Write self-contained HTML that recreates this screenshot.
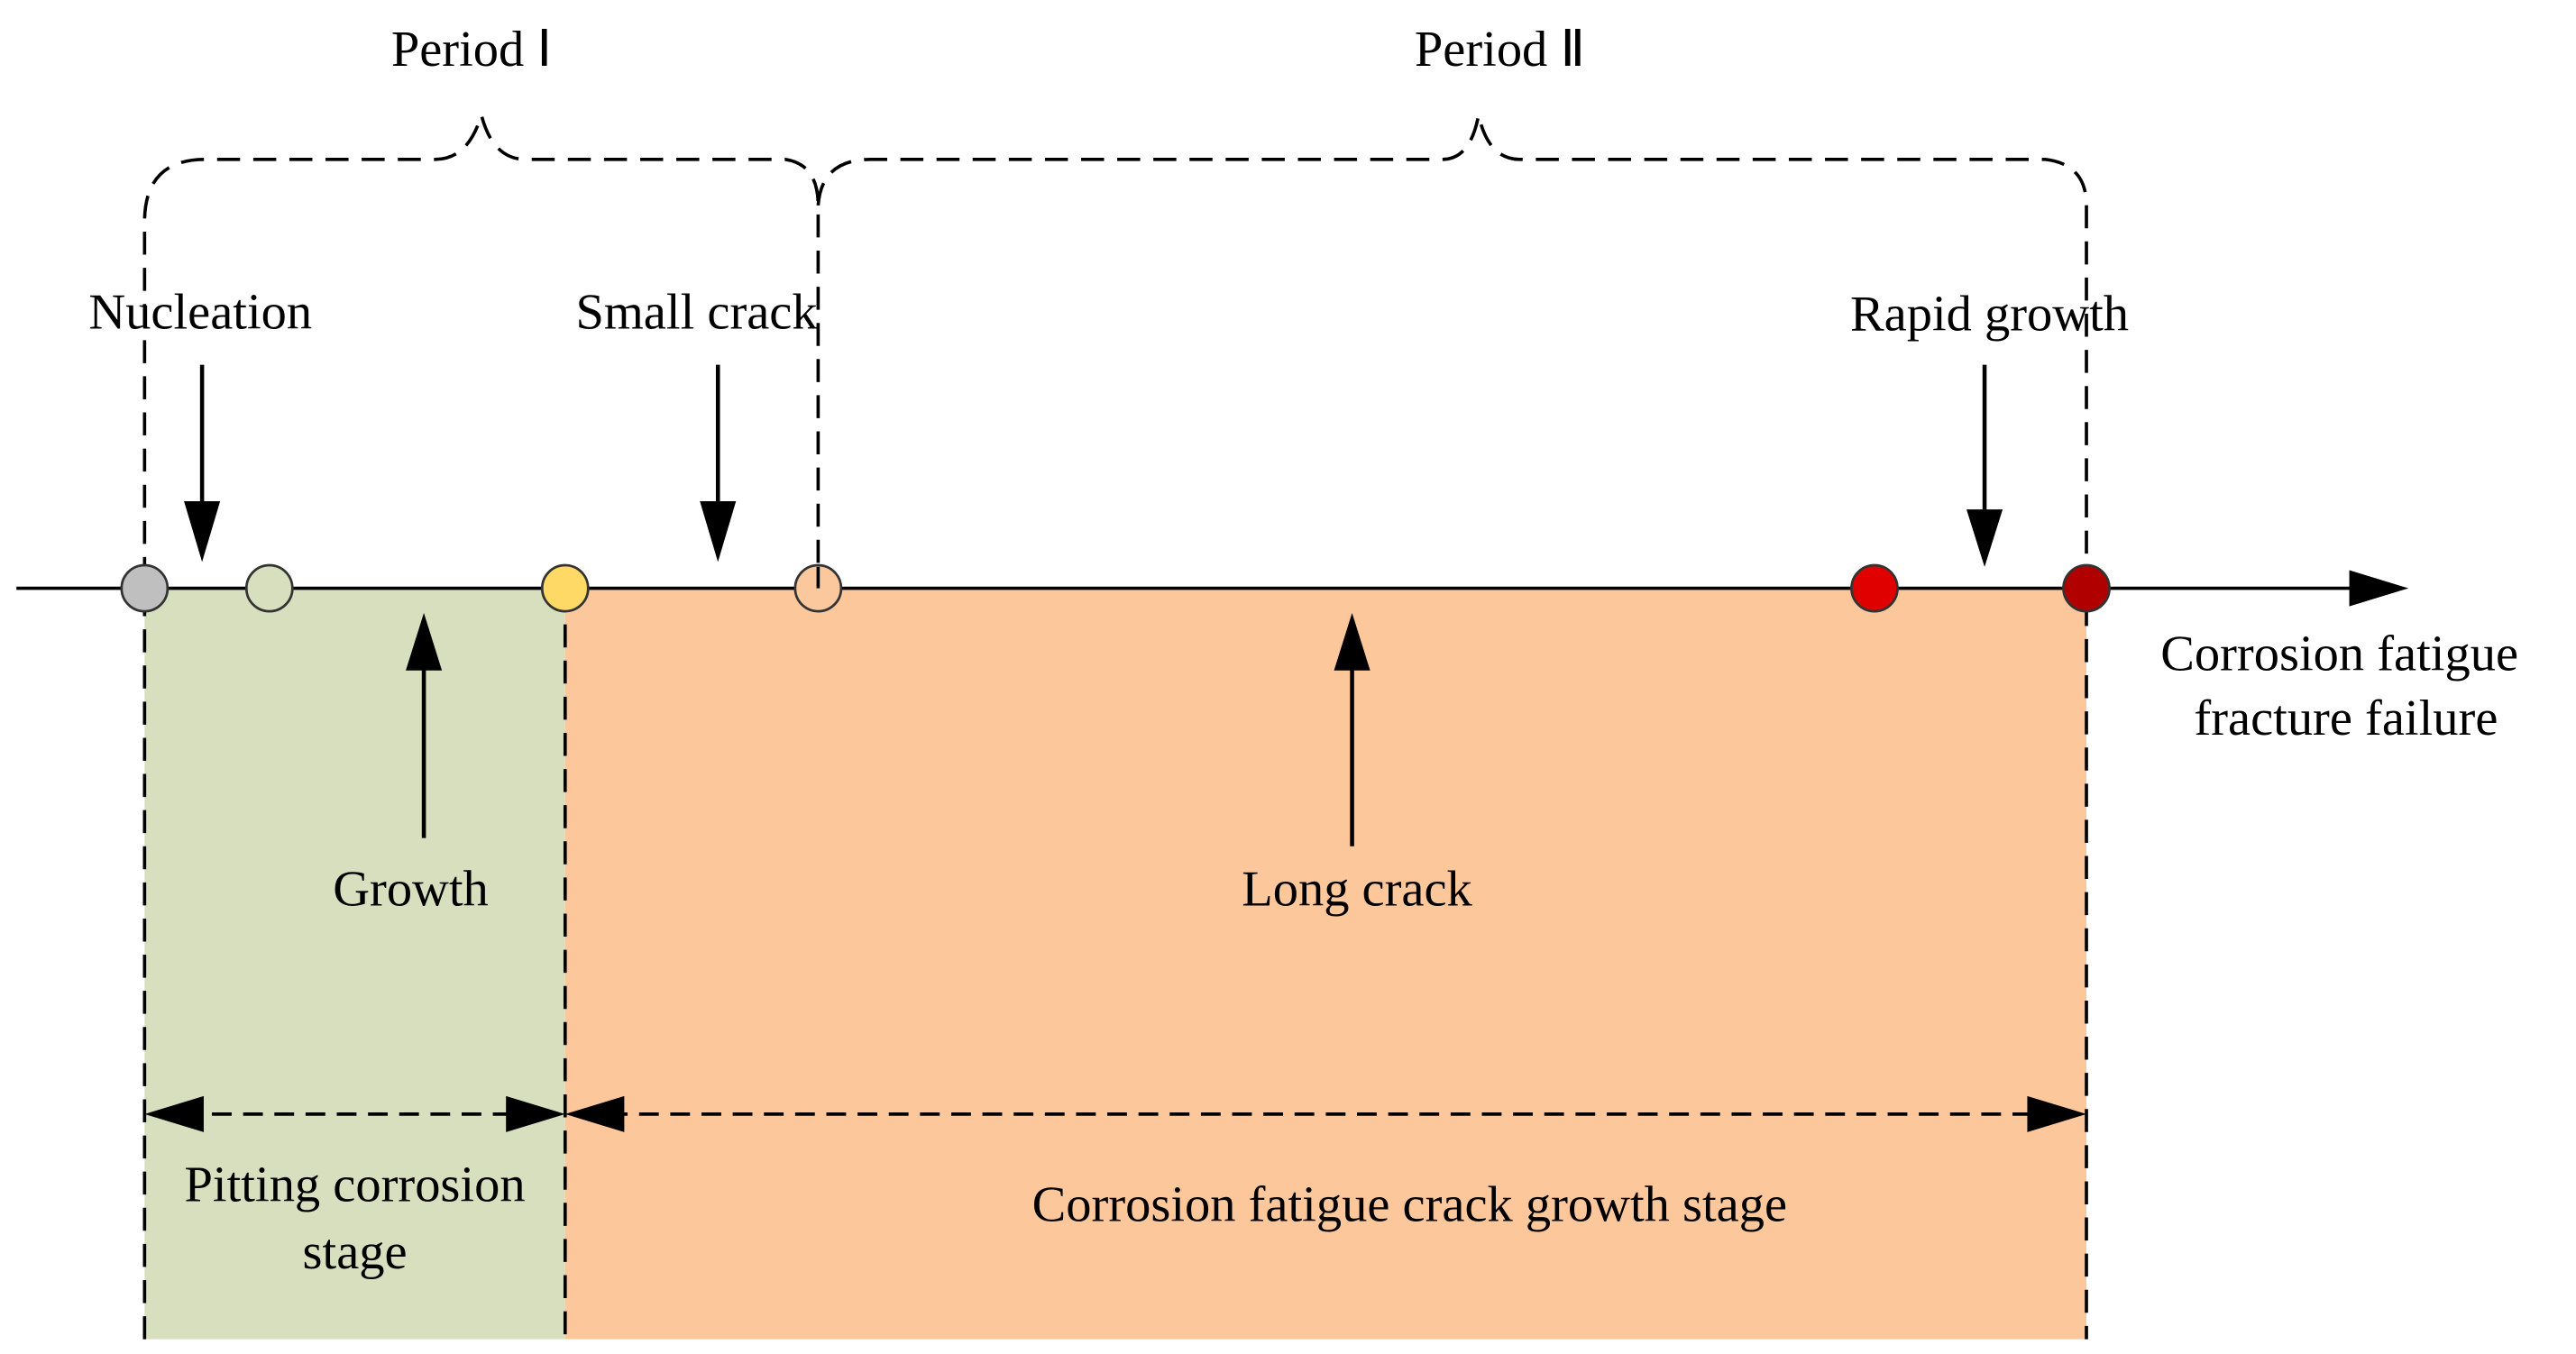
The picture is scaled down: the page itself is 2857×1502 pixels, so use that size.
<!DOCTYPE html>
<html><head><meta charset="utf-8"><style>html,body{margin:0;padding:0;background:#fff}svg{display:block}</style></head>
<body>
<svg width="2857" height="1502" viewBox="0 0 1568 824" preserveAspectRatio="none" xmlns="http://www.w3.org/2000/svg">
<defs><marker id="a" markerWidth="10" markerHeight="10" refX="9" refY="5" orient="auto" markerUnits="userSpaceOnUse"></marker></defs>
<rect x="88" y="358" width="256" height="457" fill="#d7dfbe"/>
<rect x="344" y="358" width="926" height="457" fill="#fdc79c"/>
<g fill="none" stroke="#000" stroke-width="2" stroke-dasharray="14,8">
<path d="M88,815 V135 Q88,97 125,97 H265 Q285,97 293,70 Q300,97 320,97 H478 Q498,100 498,125 V358"/>
<path d="M498,125 Q500,97 530,97 H878 Q895,97 900,70 Q906,97 925,97 H1245 Q1270,100 1270,125 V815"/>
<path d="M344,358 V815"/>
</g>
<line x1="10" y1="358" x2="1435" y2="358" stroke="#000" stroke-width="2"/>
<polygon points="1430,347 1466,358 1430,369" fill="#000"/>
<g stroke="#333" stroke-width="1.5">
<ellipse cx="88" cy="358" rx="14" ry="14" fill="#bfbfbf"/>
<ellipse cx="164" cy="358" rx="14" ry="14" fill="#d7dfbe"/>
<ellipse cx="344" cy="358" rx="14" ry="14" fill="#ffd966"/>
<ellipse cx="498" cy="358" rx="14" ry="14" fill="#fbc89e"/>
<ellipse cx="1141" cy="358" rx="14" ry="14" fill="#e00000"/>
<ellipse cx="1270" cy="358" rx="14" ry="14" fill="#b00000"/>
</g>
<line x1="498" y1="345" x2="498" y2="358" stroke="#000" stroke-width="2"/>
<g stroke="#000" stroke-width="2.5">
<line x1="123" y1="222" x2="123" y2="310"/><line x1="437" y1="222" x2="437" y2="310"/><line x1="1208" y1="222" x2="1208" y2="315"/>
<line x1="258" y1="510" x2="258" y2="400"/><line x1="823" y1="515" x2="823" y2="400"/>
<line x1="110" y1="678" x2="322" y2="678" stroke-dasharray="12,7" stroke-width="2"/>
<line x1="370" y1="678" x2="1245" y2="678" stroke-dasharray="12,7" stroke-width="2"/>
</g>
<g fill="#000">
<polygon points="112,305 134,305 123,342"/><polygon points="426,305 448,305 437,342"/><polygon points="1197,310 1219,310 1208,345"/>
<polygon points="247,408 269,408 258,373"/><polygon points="812,408 834,408 823,373"/>
<polygon points="88,678 124,667 124,689"/><polygon points="344,678 308,667 308,689"/>
<polygon points="344,678 380,667 380,689"/><polygon points="1270,678 1234,667 1234,689"/>
</g>
<g font-family="'Liberation Serif',serif" font-size="31" fill="#000" text-anchor="middle">
<text x="287" y="40">Period Ⅰ</text>
<text x="913" y="40">Period Ⅱ</text>
<text x="122" y="200">Nucleation</text>
<text x="424" y="200">Small crack</text>
<text x="1211" y="201">Rapid growth</text>
<text x="250" y="551">Growth</text>
<text x="826" y="551">Long crack</text>
<text x="216" y="731">Pitting corrosion</text>
<text x="216" y="772">stage</text>
<text x="858" y="743">Corrosion fatigue crack growth stage</text>
<text x="1424" y="408">Corrosion fatigue</text>
<text x="1428" y="447">fracture failure</text>
</g>
</svg>
</body></html>
